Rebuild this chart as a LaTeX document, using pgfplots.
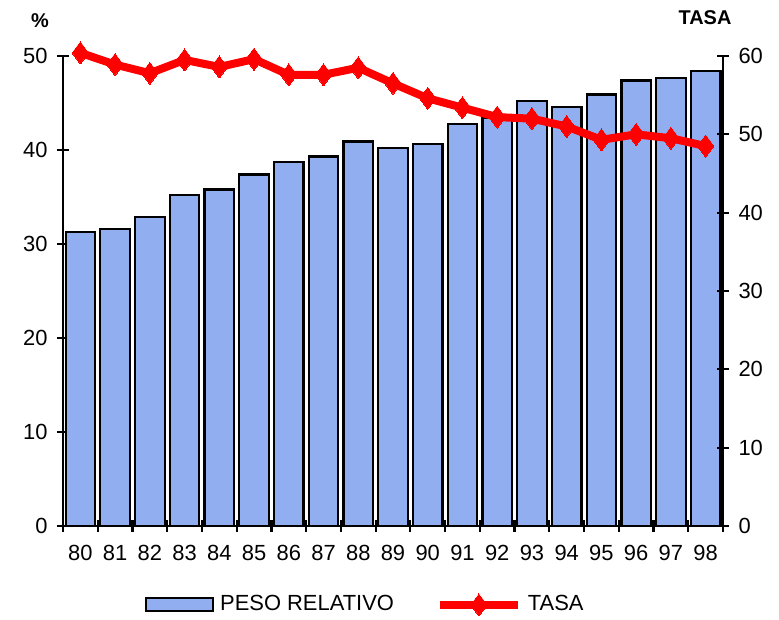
\documentclass[border=0pt]{standalone}
\usepackage{fontspec}
\setmainfont{Liberation Sans}
\usepackage{pgfplots}
\pgfplotsset{compat=1.18}
\definecolor{barblue}{RGB}{145,175,240}
\pgfplotsset{
  barlegend/.style={legend image code/.code={\draw[##1] (0bp,-6bp) rectangle (67bp,7bp);}},
  linelegend/.style={legend image code/.code={\draw[##1, mark repeat=2, mark phase=2] plot coordinates {(0bp,0bp) (39bp,0bp) (78bp,0bp)};}},
}
\begin{document}
\fontsize{22}{26}\selectfont
\begin{tikzpicture}
\pgfplotsset{
  common/.style={
    scale only axis, width=660bp, height=470bp,
    xmin=79.5, xmax=98.5,
    /pgf/number format/assume math mode=true,
    tick label style={font=\fontsize{22}{26}\selectfont},
    tick align=center,
    major tick length=12bp, minor tick length=12bp,
    every tick/.style={black, line width=2.2bp},
    axis line style={line width=2.2bp, -},
  }
}
\begin{axis}[common, name=a,
  ymin=0, ymax=50,
  axis x line*=bottom, axis y line*=left,
  xtick={80,...,98},
  xticklabel style={yshift=-6bp},
  major x tick style={draw=none},
  minor xtick={79.5,80.5,...,98.5},
  ytick={0,10,...,50},
  yticklabel style={xshift=-2bp},
]
\addplot[ybar, bar width=0.85, fill=barblue, draw=black, line width=2.2bp]
coordinates {
(80,31.3) (81,31.6) (82,32.9) (83,35.2) (84,35.8) (85,37.4) (86,38.7)
(87,39.3) (88,40.9) (89,40.2) (90,40.6) (91,42.8) (92,43.4) (93,45.2)
(94,44.6) (95,45.9) (96,47.4) (97,47.7) (98,48.4)
};
\end{axis}
\begin{axis}[common, clip=false,
  ymin=0, ymax=60,
  axis x line=none, axis y line*=right,
  ytick={0,10,...,60},
  yticklabel style={xshift=2bp},
  legend columns=2,
  legend style={at={(0.458,-0.168)}, anchor=center, draw=none, fill=none,
    font=\fontsize{22}{26}\selectfont, column sep=4bp,
    /tikz/every even column/.append style={column sep=40bp}},
]
\addlegendimage{fill=barblue, draw=black, line width=2.2bp, barlegend}
\addlegendentry{PESO RELATIVO}
\addplot[red, line width=8bp, mark=diamond*, mark size=11bp,
  mark options={solid, line width=0bp, fill=red}, linelegend]
coordinates {
(80,60.4) (81,58.9) (82,57.8) (83,59.5) (84,58.6) (85,59.6) (86,57.6)
(87,57.6) (88,58.5) (89,56.5) (90,54.6) (91,53.4) (92,52.2) (93,52.0)
(94,51.0) (95,49.3) (96,50.0) (97,49.5) (98,48.5)
};
\addlegendentry{TASA}
\end{axis}
\node[font=\bfseries\fontsize{20}{24}\selectfont] at ([xshift=-23bp,yshift=35bp]a.north west) {\%};
\node[font=\bfseries\fontsize{20}{24}\selectfont] at ([xshift=-18bp,yshift=38bp]a.north east) {TASA};
\path[use as bounding box] ([xshift=-63bp,yshift=-94bp]a.south west) rectangle ([xshift=56bp,yshift=56bp]a.north east);
\end{tikzpicture}
\end{document}
